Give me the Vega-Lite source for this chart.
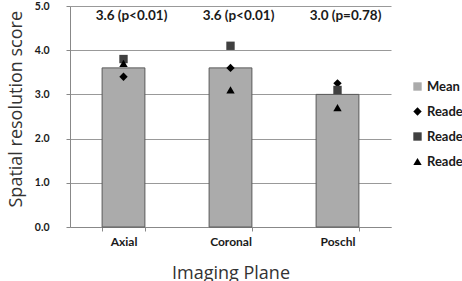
{
  "$schema": "https://vega.github.io/schema/vega-lite/v6.json",
  "width": 321,
  "height": 221,
  "autosize": {"type": "none"},
  "padding": {"left": 70, "top": 6, "right": 71, "bottom": 54},
  "background": "white",
  "config": {"font": "Lato", "view": {"stroke": null}},
  "datasets": {
    "means": [
      {"plane": "Axial", "series": "Mean", "score": 3.6, "label": "3.6 (p<0.01)"},
      {"plane": "Coronal", "series": "Mean", "score": 3.6, "label": "3.6 (p<0.01)"},
      {"plane": "Poschl", "series": "Mean", "score": 3.0, "label": "3.0 (p=0.78)"}
    ],
    "readers": [
      {"plane": "Axial", "series": "Reader 1", "score": 3.4},
      {"plane": "Axial", "series": "Reader 2", "score": 3.8},
      {"plane": "Axial", "series": "Reader 3", "score": 3.7},
      {"plane": "Coronal", "series": "Reader 1", "score": 3.6},
      {"plane": "Coronal", "series": "Reader 2", "score": 4.1},
      {"plane": "Coronal", "series": "Reader 3", "score": 3.1},
      {"plane": "Poschl", "series": "Reader 1", "score": 3.25},
      {"plane": "Poschl", "series": "Reader 2", "score": 3.1},
      {"plane": "Poschl", "series": "Reader 3", "score": 2.7}
    ]
  },
  "encoding": {
    "x": {
      "field": "plane",
      "type": "nominal",
      "sort": ["Axial", "Coronal", "Poschl"],
      "scale": {"paddingInner": 0.6, "paddingOuter": 0.3},
      "axis": {
        "title": "Imaging Plane",
        "titleFont": "Open Sans",
        "titleFontSize": 18,
        "titleFontWeight": "normal",
        "titleColor": "#333333",
        "titleY": 51,
        "titleBaseline": "alphabetic",
        "labelAngle": 0,
        "labelFontSize": 12,
        "labelFontWeight": "bold",
        "labelColor": "#1a1a1a",
        "labelPadding": 5,
        "tickBand": "extent",
        "tickSize": 4,
        "tickColor": "#888888",
        "domainColor": "#888888"
      }
    }
  },
  "layer": [
    {
      "data": {"name": "means"},
      "mark": {"type": "bar", "stroke": "#595959", "strokeWidth": 1},
      "encoding": {
        "y": {
          "field": "score",
          "type": "quantitative",
          "scale": {"domain": [0, 5]},
          "axis": {
            "values": [0, 1, 2, 3, 4, 5],
            "format": ".1f",
            "labelFontSize": 10.5,
            "labelFontWeight": "bold",
            "labelColor": "#1a1a1a",
            "labelPadding": 17,
            "tickSize": 4,
            "tickColor": "#888888",
            "domainColor": "#888888",
            "gridColor": "#999999",
            "title": "Spatial resolution score",
            "titleFont": "Open Sans",
            "titleFontSize": 18,
            "titleFontWeight": "normal",
            "titleColor": "#333333",
            "titleAngle": -90,
            "titleAlign": "left",
            "titleBaseline": "middle",
            "titleX": -54,
            "titleY": 201
          }
        },
        "color": {
          "field": "series",
          "type": "nominal",
          "scale": {
            "domain": ["Mean", "Reader 1", "Reader 2", "Reader 3"],
            "range": ["#ababab", "#000000", "#404040", "#000000"]
          },
          "legend": {
            "title": null,
            "orient": "none",
            "legendX": 341,
            "legendY": 74,
            "padding": 0,
            "labelFontSize": 13,
            "labelFontWeight": "bold",
            "labelColor": "#1a1a1a",
            "labelOffset": 3,
            "rowPadding": 11,
            "symbolSize": 70,
            "symbolStrokeWidth": 0,
            "symbolOpacity": 1
          }
        }
      }
    },
    {
      "data": {"name": "means"},
      "mark": {"type": "text", "fontWeight": "bold", "fontSize": 13.5, "dx": 8, "color": "#1a1a1a"},
      "encoding": {
        "y": {"datum": 4.77},
        "text": {"field": "label"}
      }
    },
    {
      "data": {"name": "readers"},
      "mark": {"type": "point", "filled": true, "opacity": 1, "size": 70},
      "encoding": {
        "y": {"field": "score", "type": "quantitative"},
        "color": {"field": "series", "type": "nominal"},
        "shape": {
          "field": "series",
          "type": "nominal",
          "scale": {
            "domain": ["Mean", "Reader 1", "Reader 2", "Reader 3"],
            "range": ["square", "diamond", "square", "triangle-up"]
          }
        }
      }
    }
  ]
}
